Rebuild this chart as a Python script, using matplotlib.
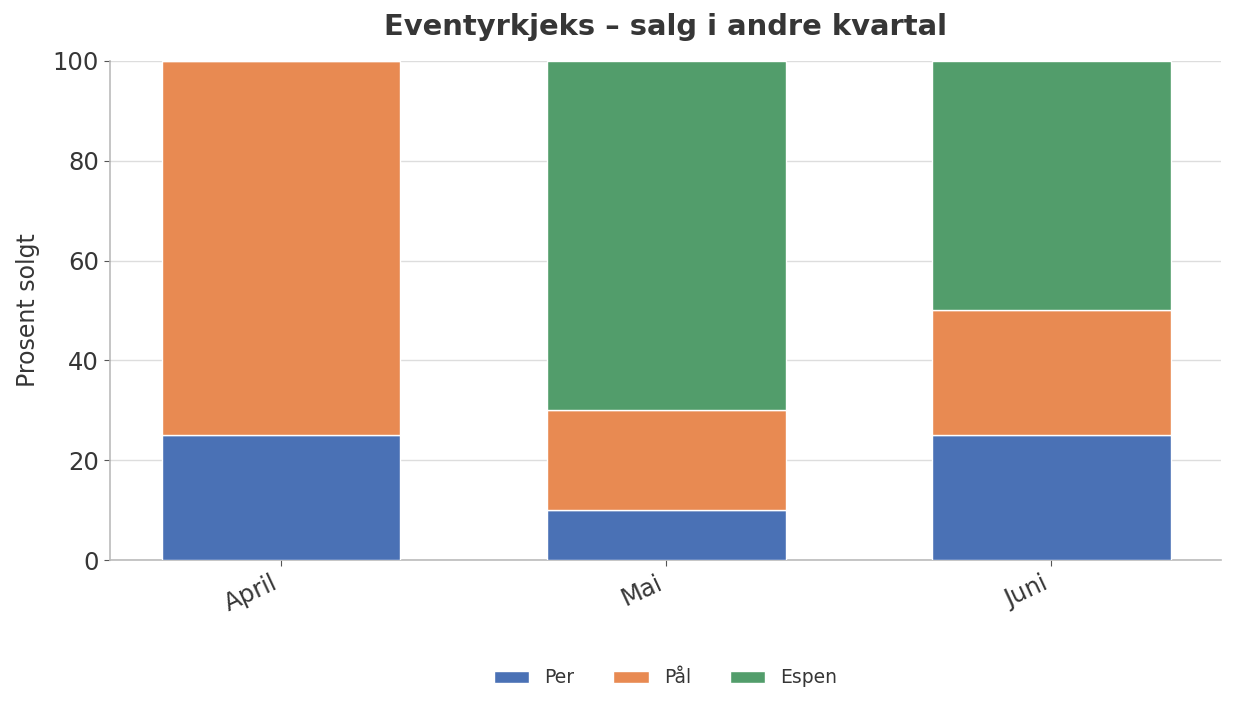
import matplotlib
matplotlib.use("Agg")
import matplotlib.pyplot as plt
import numpy as np

months = ["April", "Mai", "Juni"]
per = [25, 10, 25]
paal = [75, 20, 25]
espen = [0, 70, 50]
series_names = ["Per", "Pål", "Espen"]
colors = ["#4A71B5", "#E88A52", "#529D6B"]

text_col = "#363636"
plt.rcParams["text.color"] = text_col
plt.rcParams["axes.labelcolor"] = text_col
plt.rcParams["xtick.color"] = text_col
plt.rcParams["ytick.color"] = text_col

fig = plt.figure(figsize=(12.36, 7.11), dpi=100)
ax = fig.add_axes([110 / 1236, 1 - 560 / 711, 1111 / 1236, 499 / 711])

x = np.arange(len(months))
bottom = np.zeros(len(months))
for vals, name, col in zip([per, paal, espen], series_names, colors):
    ax.bar(x, vals, width=0.62, bottom=bottom, color=col, edgecolor="white",
           linewidth=1, label=name, zorder=3)
    bottom += np.array(vals)

ax.set_xlim(-0.444, 2.44)
ax.set_ylim(0, 100)
ax.set_yticks([0, 20, 40, 60, 80, 100])
ax.yaxis.grid(True, color="#dddddd", linewidth=1, zorder=0)
ax.set_axisbelow(True)

ax.set_xticks(x)
ax.set_xticklabels(months, rotation=25, ha="right", fontsize=17.5)
ax.tick_params(axis="y", labelsize=17.5, length=4.5, color="#555555")
ax.tick_params(axis="x", length=4.5, color="#555555")

for s in ["top", "right"]:
    ax.spines[s].set_visible(False)
for s in ["left", "bottom"]:
    ax.spines[s].set_color("#bbbbbb")
    ax.spines[s].set_linewidth(1.2)

ax.set_ylabel("Prosent solgt", fontsize=17, labelpad=9)
ax.set_title("Eventyrkjeks – salg i andre kvartal", fontsize=20.9, fontweight="bold",
             color=text_col, pad=18.5)

ax.legend(loc="center", bbox_to_anchor=(0.5, -0.236), ncol=3, frameon=False,
          fontsize=13.5, handlelength=1.9, handleheight=0.6, columnspacing=2.07)

fig.savefig("out.png", dpi=100)
